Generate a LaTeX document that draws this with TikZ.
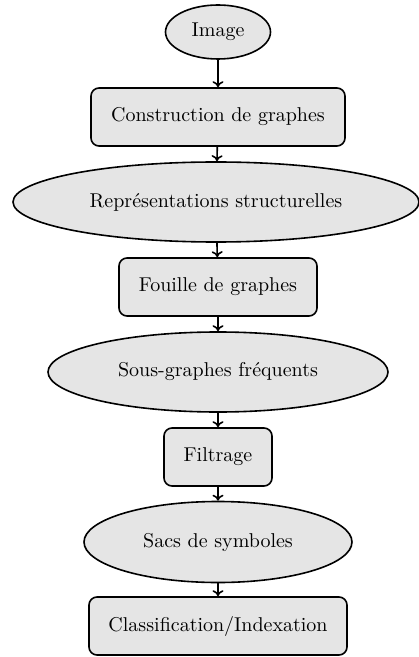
\documentclass[tikz,border=0pt]{standalone}
\usetikzlibrary{shapes.geometric,arrows.meta}
\begin{document}
\begin{tikzpicture}[x=0.5pt,y=-0.5pt,
  every node/.style={font=\normalsize, inner sep=0pt, line width=0.8pt, draw=black, fill=gray!20},
  datum/.style={ellipse},
  stepbox/.style={rectangle, rounded corners=4pt},
  flow/.style={-{To[length=3pt,width=5.5pt]}, line width=0.8pt}]
\useasboundingbox (0,0) rectangle (418,657);
\node[datum, minimum width=52.5pt, minimum height=27pt] (img) at (218,32) {Image};
\node[stepbox, minimum width=127pt, minimum height=29pt] (cons) at (218,117) {Construction de graphes};
\node[datum, minimum width=203pt, minimum height=40pt] (rep) at (216,202) {Représentations structurelles};
\node[stepbox, minimum width=99pt, minimum height=29pt] (fou) at (218,287) {Fouille de graphes};
\node[datum, minimum width=170pt, minimum height=40pt] (sous) at (218,372) {Sous-graphes fréquents};
\node[stepbox, minimum width=54pt, minimum height=29pt] (fil) at (218,457) {Filtrage};
\node[datum, minimum width=134pt, minimum height=40.5pt] (sacs) at (218,542) {Sacs de symboles};
\node[stepbox, minimum width=129pt, minimum height=29pt] (cla) at (218,626) {Classification/Indexation};
\draw[flow] (img) -- (cons);
\draw[flow] (cons) -- (rep);
\draw[flow] (rep) -- (fou);
\draw[flow] (fou) -- (sous);
\draw[flow] (sous) -- (fil);
\draw[flow] (fil) -- (sacs);
\draw[flow] (sacs) -- (cla);
\end{tikzpicture}
\end{document}
